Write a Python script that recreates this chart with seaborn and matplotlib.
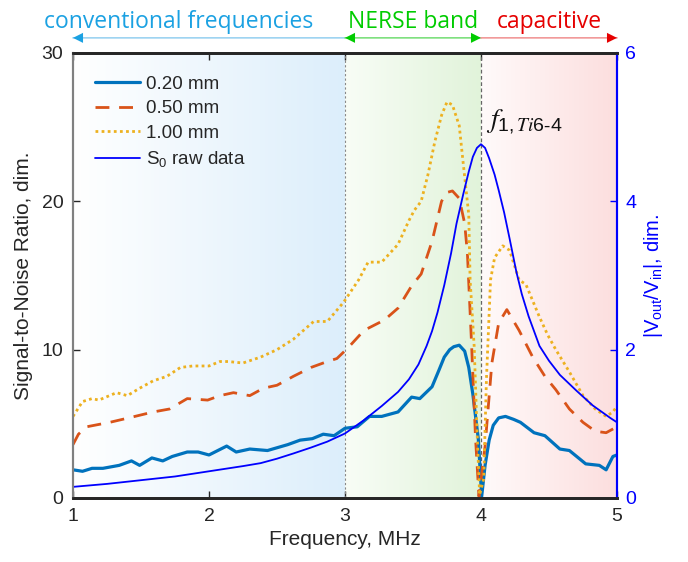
import numpy as np
import pandas as pd
import matplotlib
matplotlib.use("Agg")
import matplotlib.pyplot as plt
import seaborn as sns

# SNR curves (left axis), frequency in MHz
f_020 = [1.00, 1.07, 1.14, 1.22, 1.34, 1.43, 1.49, 1.58, 1.66, 1.73, 1.84, 1.92, 2.00,
         2.13, 2.20, 2.30, 2.43, 2.58, 2.67, 2.76, 2.84, 2.92, 3.00, 3.09, 3.18, 3.27,
         3.39, 3.49, 3.55, 3.64, 3.69, 3.73, 3.77, 3.80, 3.84, 3.88, 3.91, 3.94, 3.98,
         4.005, 4.03, 4.06, 4.09, 4.13, 4.18, 4.24, 4.29, 4.39, 4.47, 4.58, 4.65, 4.77,
         4.87, 4.92, 4.97, 5.00]
snr_020 = [1.9, 1.8, 2.0, 2.0, 2.2, 2.5, 2.2, 2.7, 2.5, 2.8, 3.1, 3.1, 2.9,
           3.5, 3.1, 3.3, 3.2, 3.6, 3.9, 4.0, 4.3, 4.2, 4.7, 4.8, 5.5, 5.5,
           5.8, 6.8, 6.7, 7.5, 8.6, 9.5, 10.0, 10.2, 10.3, 9.9, 8.8, 7.0, 4.0,
           0.1, 2.2, 3.9, 4.9, 5.4, 5.5, 5.3, 5.1, 4.4, 4.2, 3.3, 3.2, 2.3,
           2.2, 1.9, 2.8, 2.9]

f_050 = [1.00, 1.04, 1.10, 1.27, 1.41, 1.59, 1.71, 1.84, 1.99, 2.08, 2.18, 2.30, 2.40,
         2.50, 2.62, 2.75, 2.87, 2.94, 3.02, 3.14, 3.29, 3.39, 3.49, 3.56, 3.64, 3.71,
         3.75, 3.79, 3.84, 3.88, 3.90, 3.93, 3.96, 3.985, 4.03, 4.08, 4.13, 4.19, 4.28,
         4.38, 4.47, 4.55, 4.65, 4.75, 4.84, 4.92, 4.98, 5.00]
snr_050 = [3.6, 4.3, 4.8, 5.1, 5.4, 5.8, 6.0, 6.7, 6.6, 6.9, 7.1, 6.9, 7.4,
           7.6, 8.2, 8.8, 9.2, 9.4, 10.1, 11.3, 12.0, 12.8, 14.3, 15.1, 17.3, 20.0,
           20.6, 20.7, 20.2, 18.5, 16.5, 10.5, 4.0, 0.1, 3.5, 9.1, 11.8, 12.7, 11.3,
           9.5, 8.2, 7.3, 6.0, 5.1, 4.5, 4.4, 4.7, 4.9]

f_100 = [1.00, 1.07, 1.14, 1.19, 1.32, 1.40, 1.49, 1.59, 1.69, 1.79, 1.88, 2.00, 2.08,
         2.14, 2.25, 2.38, 2.50, 2.62, 2.77, 2.87, 2.99, 3.10, 3.17, 3.27, 3.39, 3.47,
         3.51, 3.56, 3.61, 3.66, 3.71, 3.75, 3.79, 3.84, 3.87, 3.91, 3.92, 3.95, 3.97,
         3.99, 4.02, 4.04, 4.07, 4.10, 4.16, 4.21, 4.28, 4.33, 4.43, 4.49, 4.55, 4.65,
         4.75, 4.84, 4.92, 4.97, 5.00]
snr_100 = [5.5, 6.5, 6.7, 6.6, 7.1, 6.9, 7.4, 7.9, 8.2, 8.8, 8.9, 8.9, 9.2,
           9.2, 9.1, 9.5, 10.0, 10.7, 11.9, 11.9, 13.2, 14.7, 15.9, 15.9, 17.1, 18.7,
           19.4, 20.0, 21.8, 24.0, 25.8, 26.7, 26.5, 25.1, 22.5, 19.1, 14.7, 10.2, 4.7,
           0.2, 1.3, 8.0, 14.7, 16.2, 17.0, 16.7, 14.7, 14.4, 12.2, 11.0, 10.0, 8.5,
           6.9, 6.0, 5.5, 5.8, 6.2]

# S0 raw data (right axis)
f_s0 = [1.00, 1.25, 1.50, 1.75, 2.00, 2.25, 2.38, 2.50, 2.62, 2.75, 2.87, 3.00, 3.14,
        3.27, 3.39, 3.47, 3.54, 3.60, 3.64, 3.68, 3.73, 3.78, 3.82, 3.87, 3.91, 3.94,
        3.97, 4.00, 4.03, 4.06, 4.10, 4.13, 4.17, 4.21, 4.26, 4.30, 4.35, 4.43, 4.50,
        4.58, 4.70, 4.82, 4.95, 5.00]
v_s0 = [0.15, 0.19, 0.24, 0.29, 0.36, 0.43, 0.47, 0.53, 0.60, 0.68, 0.76, 0.87, 1.05,
        1.24, 1.43, 1.60, 1.80, 2.05, 2.25, 2.50, 2.87, 3.30, 3.70, 4.10, 4.40, 4.60,
        4.72, 4.77, 4.72, 4.58, 4.36, 4.15, 3.85, 3.50, 3.05, 2.75, 2.45, 2.05, 1.85,
        1.66, 1.45, 1.25, 1.08, 1.02]

band_edges = [1, 3, 4, 5]
band_names = ["conventional frequencies", "NERSE band", "capacitive"]
band_text_colors = ["#1BA1E2", "#00CC00", "#E60000"]
band_line_colors = ["#9FD4F2", "#7FE07F", "#F29A9A"]
band_fill = [((255, 255, 255), (220, 238, 251)),
             ((248, 253, 246), (225, 243, 218)),
             ((255, 250, 250), (252, 222, 222))]

sns.set_style("ticks")
plt.rcParams["font.family"] = ["Liberation Sans", "DejaVu Sans"]
plt.rcParams["mathtext.default"] = "regular"

fig = plt.figure(figsize=(6.88, 5.62), dpi=100)
ax = fig.add_axes([0.1061, 0.1139, 0.7907, 0.7918])
ax2 = ax.twinx()

# gradient backgrounds
for i in range(3):
    c0 = np.array(band_fill[i][0]) / 255
    c1 = np.array(band_fill[i][1]) / 255
    t = np.linspace(0, 1, 200)[None, :, None]
    img = c0 + (c1 - c0) * t
    ax.imshow(img, extent=(band_edges[i], band_edges[i + 1], 0, 30),
              aspect="auto", zorder=0, interpolation="bilinear")

ax.axvline(band_edges[1], color="#888888", lw=0.8, ls=(0, (2, 2)), zorder=1)
ax.axvline(band_edges[2], color="#666666", lw=0.9, ls=(0, (3, 2)), zorder=1)

sns.lineplot(x=f_020, y=snr_020, ax=ax, color="#0072BD", lw=2.3,
             label="0.20 mm", sort=False, legend=False)
sns.lineplot(x=f_050, y=snr_050, ax=ax, color="#D95319", lw=2.0,
             ls=(0, (5, 3.5)), label="0.50 mm", sort=False, legend=False)
sns.lineplot(x=f_100, y=snr_100, ax=ax, color="#EDB120", lw=2.0,
             ls=(0, (1, 1.2)), label="1.00 mm", sort=False, legend=False)
sns.lineplot(x=f_s0, y=v_s0, ax=ax2, color="#0000FF", lw=1.3,
             label="S$_0$ raw data", sort=False, legend=False)

ax.set_xlim(1, 5)
ax.set_ylim(0, 30)
ax2.set_ylim(0, 6)
ax.set_xticks([1, 2, 3, 4, 5])
ax.set_yticks([0, 10, 20, 30])
ax2.set_yticks([0, 2, 4, 6])

ax.tick_params(direction="in", top=True, right=False, length=5, width=1,
               labelsize=14, colors="#262626", pad=7)
ax2.tick_params(direction="in", length=5, width=1, labelsize=14,
                colors="#0000FF", pad=6)
ax.set_xlabel("Frequency, MHz", fontsize=15, color="#262626", labelpad=4)
ax.set_ylabel("Signal-to-Noise Ratio, dim.", fontsize=15, color="#262626", labelpad=6)
ax2.set_ylabel("|V$_{out}$/V$_{in}$|, dim.", fontsize=14.5, color="#0000FF", labelpad=4)

for a in (ax, ax2):
    a.spines["top"].set_color("#262626")
    a.spines["top"].set_linewidth(2)
    a.spines["bottom"].set_color("#262626")
    a.spines["bottom"].set_linewidth(2)
    a.spines["left"].set_color("#808080")
    a.spines["left"].set_linewidth(1.5)
    a.spines["right"].set_color("#0000FF")
    a.spines["right"].set_linewidth(1.5)

h1, lab1 = ax.get_legend_handles_labels()
h2, lab2 = ax2.get_legend_handles_labels()
ax2.legend(h1 + h2, lab1 + lab2, loc="upper left", frameon=False, fontsize=13.5,
           handlelength=2.4, handletextpad=0.3, borderaxespad=0.8,
           labelspacing=0.4, bbox_to_anchor=(0.0, 1.0))

ax2.text(4.04, 24.4 / 5, r"$\mathit{f}_{1,\mathit{Ti}6\text{-} 4}$", fontsize=20,
         math_fontfamily="stix", color="#111111", va="bottom", ha="left")

# band arrows and labels above the plot
trans = ax.get_xaxis_transform()
arrow_styles = ["<|-", "<|-|>", "-|>"]
for i in range(3):
    x0, x1 = band_edges[i], band_edges[i + 1]
    ax.annotate("", xy=(x1, 1.034), xytext=(x0, 1.034), xycoords=trans,
                textcoords=trans, annotation_clip=False,
                arrowprops=dict(arrowstyle="-", color=band_line_colors[i], lw=1.2,
                                shrinkA=0, shrinkB=0))
    ax.annotate("", xy=(x1, 1.034), xytext=(x0, 1.034), xycoords=trans,
                textcoords=trans, annotation_clip=False,
                arrowprops=dict(arrowstyle=arrow_styles[i], color=band_text_colors[i],
                                lw=0.01, mutation_scale=18, shrinkA=0, shrinkB=0))
    ax.text((x0 + x1) / 2 if i else 1.78, 1.07, band_names[i], transform=trans,
            ha="center", va="center", fontsize=16.5, color=band_text_colors[i],
            family=["Open Sans", "DejaVu Sans"])

fig.savefig("out.png", dpi=100)
